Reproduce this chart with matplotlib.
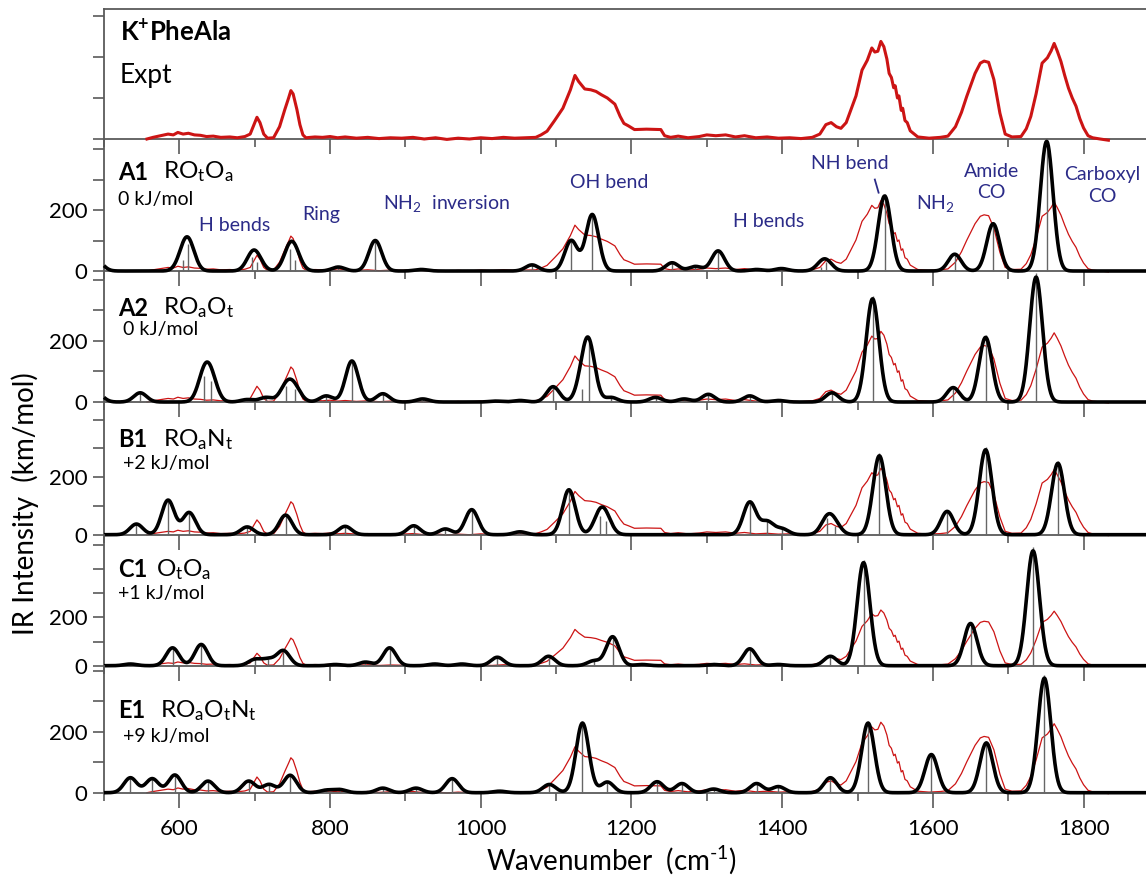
import numpy as np
import matplotlib
matplotlib.use("Agg")
import matplotlib.pyplot as plt
from matplotlib.ticker import FixedLocator, NullFormatter, FixedFormatter

FONT = "Lato"
plt.rcParams["font.family"] = [FONT, "DejaVu Sans"]
plt.rcParams["mathtext.fontset"] = "custom"
plt.rcParams["mathtext.rm"] = FONT
plt.rcParams["mathtext.it"] = FONT + ":italic"
plt.rcParams["mathtext.bf"] = FONT + ":bold"

# ---------------- data ----------------
# experimental IRMPD spectrum (arbitrary units)
expt_wn = [557, 565, 575, 585, 592, 598, 605, 612, 620, 628, 636, 645, 655, 667, 677, 687,
           694, 698, 703, 707, 712, 717, 725, 733, 740, 745, 748, 751, 756, 760, 764, 768,
           780, 790, 800, 810, 820, 835, 850, 865, 880, 895, 910, 925, 940, 955, 970, 985,
           1000, 1015, 1030, 1045, 1060, 1073, 1080, 1088, 1098, 1109, 1119, 1125, 1130,
           1138, 1146, 1153, 1160, 1168, 1178, 1185, 1190, 1196, 1204, 1220, 1239, 1244,
           1252, 1262, 1275, 1290, 1300, 1312, 1325, 1338, 1350, 1365, 1380, 1395, 1410,
           1425, 1440, 1450, 1458, 1465, 1472, 1478, 1485, 1491, 1498, 1506, 1513, 1519,
           1523, 1527, 1531, 1535, 1539, 1542, 1545, 1548, 1550, 1553, 1555, 1558, 1560,
           1563, 1566, 1570, 1580, 1595, 1610, 1620, 1630, 1638, 1645, 1656, 1663, 1668,
           1674, 1681, 1689, 1696, 1705, 1717, 1724, 1730, 1737, 1745, 1752, 1757, 1761,
           1765, 1770, 1775, 1780, 1785, 1790, 1795, 1800, 1806, 1812, 1822, 1833]
expt_int = [0.0, 0.04, 0.08, 0.12, 0.10, 0.16, 0.12, 0.14, 0.10, 0.09, 0.06, 0.07, 0.04, 0.05, 0.03, 0.06,
            0.12, 0.30, 0.53, 0.40, 0.12, 0.02, 0.03, 0.30, 0.72, 1.00, 1.18, 1.10, 0.72, 0.35, 0.10, 0.03,
            0.05, 0.04, 0.06, 0.03, 0.05, 0.02, 0.04, 0.01, 0.03, 0.02, 0.04, 0.00, 0.03, -0.01, 0.02, 0.00,
            0.03, 0.01, 0.04, 0.02, 0.03, 0.04, 0.10, 0.19, 0.45, 0.75, 1.20, 1.55, 1.40,
            1.22, 1.20, 1.16, 1.08, 1.00, 0.85, 0.55, 0.38, 0.32, 0.23, 0.24, 0.23, 0.08,
            0.04, 0.07, 0.03, 0.06, 0.10, 0.08, 0.10, 0.05, 0.08, 0.03, 0.05, 0.02, 0.03,
            0.01, 0.04, 0.12, 0.35, 0.40, 0.30, 0.26, 0.40, 0.70, 1.05, 1.68, 1.92, 2.22,
            2.12, 2.14, 2.38, 2.25, 1.95, 1.60, 1.50, 1.25, 1.30, 1.00, 1.05, 0.70, 0.75,
            0.45, 0.40, 0.20, 0.05, 0.02, 0.04, 0.07, 0.30, 0.65, 1.04, 1.60, 1.85, 1.90,
            1.87, 1.45, 0.63, 0.12, 0.05, 0.06, 0.25, 0.55, 1.10, 1.85, 1.98, 2.15, 2.33,
            2.15, 1.89, 1.55, 1.24, 1.00, 0.80, 0.50, 0.27, 0.08, 0.03, 0.00, -0.03]

# computed harmonic frequencies (cm-1) and IR intensities (km/mol)
a1_freq = [490, 605, 612, 697, 703, 747, 754, 811, 860, 921, 1068, 1120, 1148, 1254, 1285,
           1315, 1366, 1399, 1452, 1458, 1536, 1629, 1680, 1751]
a1_int = [35, 35, 85, 45, 28, 70, 35, 13, 100, 5, 20, 100, 185, 27, 15,
          66, 5, 8, 12, 30, 246, 55, 155, 425]

a2_freq = [490, 548, 633, 642, 690, 715, 742, 753, 795, 829, 870, 923, 1020, 1052, 1096,
           1134, 1143, 1173, 1232, 1270, 1302, 1357, 1395, 1466, 1520, 1627, 1670, 1737]
a2_int = [30, 30, 82, 68, 8, 15, 50, 42, 20, 134, 27, 10, 3, 5, 50,
          40, 188, 15, 15, 10, 25, 20, 5, 30, 337, 47, 211, 408]

b1_freq = [543, 585, 613, 690, 741, 820, 911, 953, 988, 1052, 1117, 1158, 1166, 1357, 1380,
           1400, 1460, 1470, 1529, 1619, 1670, 1766]
b1_int = [37, 120, 77, 27, 68, 29, 31, 20, 87, 10, 156, 62, 45, 113, 45,
          20, 55, 30, 274, 81, 295, 248]

c1_freq = [535, 591, 629, 700, 718, 738, 807, 847, 879, 939, 975, 1022, 1090, 1150, 1175,
           1214, 1309, 1357, 1395, 1464, 1508, 1650, 1733]
c1_int = [7, 74, 88, 25, 25, 62, 5, 15, 74, 7, 7, 35, 39, 20, 120,
          5, 5, 70, 5, 39, 427, 175, 476]

e1_freq = [535, 564, 594, 638, 692, 719, 747, 795, 813, 870, 914, 962, 1025, 1091, 1135,
           1168, 1234, 1267, 1309, 1366, 1395, 1464, 1514, 1598, 1671, 1748]
e1_int = [49, 46, 58, 38, 38, 27, 57, 8, 10, 15, 15, 46, 5, 27, 228,
          35, 36, 30, 12, 30, 20, 49, 228, 125, 163, 375]

panel_names = ["A1", "A2", "B1", "C1", "E1"]
panel_confs = [r"RO$_\mathrm{t}$O$_\mathrm{a}$", r"RO$_\mathrm{a}$O$_\mathrm{t}$",
               r"RO$_\mathrm{a}$N$_\mathrm{t}$", r"O$_\mathrm{t}$O$_\mathrm{a}$",
               r"RO$_\mathrm{a}$O$_\mathrm{t}$N$_\mathrm{t}$"]
panel_energy = ["0 kJ/mol", " 0 kJ/mol", " +2 kJ/mol", "+1 kJ/mol", " +9 kJ/mol"]
panel_ymax = [433, 428, 461, 543, 416]

x_major = [600, 800, 1000, 1200, 1400, 1600, 1800]
x_minor = [500, 700, 900, 1100, 1300, 1500, 1700]

# ---------------- layout ----------------
W, H = 1146, 881
fig = plt.figure(figsize=(W / 100, H / 100), dpi=100)
X0 = 104
XMIN, XMAX = 500, 500 + (W - X0) / 0.7535
bounds = [(9, 139), (139, 271), (271, 402), (402, 534.7), (534.7, 665.7), (665.7, 792.7)]

RED = "#cc1414"
NAVY = "#2b2b88"
SPINE = "#5a5a5a"
EXPT_SCALE = 97.0
FWHM = 20.0

axes = []
for (top, bot) in bounds:
    ax = fig.add_axes([X0 / W, 1 - bot / H, 1 - X0 / W, (bot - top) / H])
    axes.append(ax)

grid = np.linspace(XMIN, XMAX, 3000)
ew = np.array(expt_wn, float)
ei = np.array(expt_int, float)

def style(ax, ymax, ymaj, ymin, ylabels, show_top=False):
    ax.set_xlim(XMIN, XMAX)
    ax.set_ylim(0, ymax)
    ax.set_facecolor("none")
    ax.spines["right"].set_visible(False)
    ax.spines["top"].set_visible(show_top)
    for s in ["left", "bottom", "top"]:
        ax.spines[s].set_color(SPINE)
        ax.spines[s].set_linewidth(1.3)
    ax.xaxis.set_major_locator(FixedLocator(x_major))
    ax.xaxis.set_minor_locator(FixedLocator(x_minor))
    ax.yaxis.set_major_locator(FixedLocator(ymaj))
    ax.yaxis.set_minor_locator(FixedLocator(ymin))
    ax.tick_params(axis="x", which="major", direction="out", length=11, width=1.2, color=SPINE,
                   labelsize=16, pad=8, labelbottom=False)
    ax.tick_params(axis="x", which="minor", direction="out", length=6, width=1.2, color=SPINE)
    ax.tick_params(axis="y", which="both", direction="out", length=8, width=1.2, color=SPINE,
                   labelsize=16, pad=4)
    if ylabels is None:
        ax.yaxis.set_major_formatter(NullFormatter())
    else:
        ax.yaxis.set_major_formatter(FixedFormatter(ylabels))

# experiment panel
ax = axes[0]
style(ax, 3.17, [0, 1, 2, 3], [], None, show_top=True)
ax.plot(ew, ei, color=RED, lw=2.2, clip_on=False, zorder=3)
ax.text(0.015, 0.815, r"$\mathbf{K^{+}PheAla}$", transform=ax.transAxes, fontsize=18.5,
        va="center", ha="left")
ax.text(0.015, 0.485, "Expt", transform=ax.transAxes, fontsize=19, va="center", ha="left")

all_freq = [a1_freq, a2_freq, b1_freq, c1_freq, e1_freq]
all_int = [a1_int, a2_int, b1_int, c1_int, e1_int]
name_y = [0.75, 0.717, 0.714, 0.735, 0.645]
energy_y = [0.545, 0.557, 0.533, 0.55, 0.441]
conf_dx = [0.043, 0.043, 0.043, 0.036, 0.040]

for k in range(5):
    ax = axes[k + 1]
    ymax = panel_ymax[k]
    maj = [0, 200, 400]
    mnr = [100, 300] + ([500] if ymax > 500 else [])
    style(ax, ymax, maj, mnr, ["0", "200", ""])
    f = np.array(all_freq[k], float)
    a = np.array(all_int[k], float)
    spec = (a[None, :] * np.exp(-4 * np.log(2) * (grid[:, None] - f[None, :]) ** 2 / FWHM ** 2)).sum(axis=1)
    ax.plot(ew, ei * EXPT_SCALE, color=RED, lw=0.9, zorder=2, clip_on=False)
    inside = (f >= XMIN) & (f <= XMAX)
    ax.vlines(f[inside], 0, a[inside] * 1.03, color="#666666", lw=1.0, zorder=3, clip_on=False)
    ax.plot(grid, spec, color="black", lw=2.6, zorder=4, clip_on=False, solid_capstyle="butt")
    ax.text(0.0135, name_y[k], panel_names[k], transform=ax.transAxes, fontsize=17,
            fontweight="bold", va="center", ha="left")
    ax.text(0.0135 + conf_dx[k], name_y[k], panel_confs[k],
            transform=ax.transAxes, fontsize=17.5, va="center", ha="left")
    ax.text(0.0135, energy_y[k], panel_energy[k], transform=ax.transAxes, fontsize=14,
            va="center", ha="left")

# assignment labels in A1 panel
ax = axes[1]
ann = [("H bends", 673, 148), ("Ring", 788, 184), (r"NH$_2$  inversion", 954, 223),
       ("OH bend", 1170, 289), ("H bends", 1382, 161), ("NH bend", 1490, 351),
       (r"NH$_2$", 1603, 220), ("Amide", 1678, 328), ("CO", 1677, 259),
       ("Carboxyl", 1825, 318), ("CO", 1825, 246)]
for txt, xx, yy in ann:
    ax.text(xx, yy, txt, color=NAVY, fontsize=14, ha="center", va="center", zorder=5)
ax.plot([1523, 1528], [300, 257], color=NAVY, lw=1.3, zorder=5)

# bottom axis labels
axb = axes[-1]
axb.tick_params(axis="x", which="major", labelbottom=True)
axb.set_xlabel(r"Wavenumber  (cm$^{\text{-1}}$)", fontsize=20, labelpad=2)
axb.xaxis.set_label_coords(0.487, -0.40)
fig.text(25 / W, 1 - 504 / H, "IR Intensity  (km/mol)", rotation=90, fontsize=20,
         ha="center", va="center")

fig.savefig("out.png", dpi=100, facecolor="white")
